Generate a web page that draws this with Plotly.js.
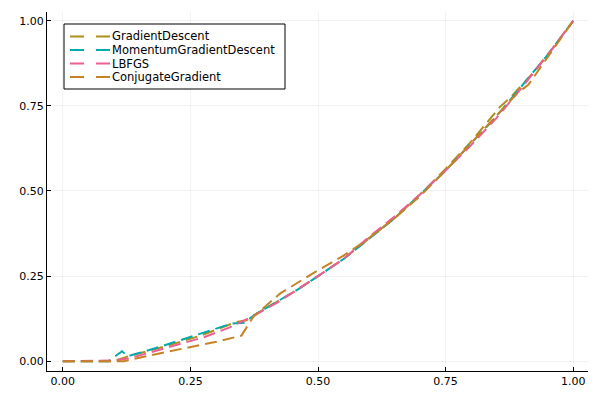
<!DOCTYPE html>
<html>
<head>
<meta charset="utf-8">
<script src="https://cdn.plot.ly/plotly-3.0.1.min.js"></script>
<style>html,body{margin:0;padding:0;background:#fff;}#chart{width:600px;height:400px;}</style>
</head>
<body>
<div id="chart"></div>
<script>
const seriesNames = ["GradientDescent", "MomentumGradientDescent", "LBFGS", "ConjugateGradient"];
const seriesColors = ["#AC8E18", "#00A9AD", "#ED5E93", "#C68225"];

const gdX = [0, 0.1, 0.13, 0.2, 0.27, 0.34, 0.36, 0.38, 0.42, 0.46, 0.5, 0.55, 0.6, 0.65, 0.7, 0.75, 0.8, 0.857, 0.876, 0.92, 0.96, 1.0];
const gdY = [0, 0, 0.015, 0.043, 0.075, 0.115, 0.12, 0.14, 0.175, 0.21, 0.25, 0.3, 0.36, 0.42, 0.49, 0.565, 0.645, 0.748, 0.773, 0.845, 0.92, 1.0];

const mgdX = [0, 0.09, 0.116, 0.127, 0.19, 0.26, 0.33, 0.355, 0.38, 0.42, 0.46, 0.5, 0.55, 0.6, 0.65, 0.7, 0.75, 0.8, 0.85, 0.9, 0.95, 1.0];
const mgdY = [0, 0, 0.029, 0.014, 0.042, 0.077, 0.11, 0.113, 0.14, 0.175, 0.21, 0.25, 0.3, 0.36, 0.42, 0.49, 0.56, 0.64, 0.72, 0.81, 0.9, 1.0];

const lbX = [0, 0.1, 0.13, 0.2, 0.278, 0.327, 0.38, 0.42, 0.46, 0.5, 0.55, 0.6, 0.65, 0.7, 0.75, 0.8, 0.85, 0.9, 0.95, 1.0];
const lbY = [0, 0.002, 0.008, 0.038, 0.071, 0.099, 0.138, 0.172, 0.21, 0.25, 0.3, 0.365, 0.425, 0.49, 0.56, 0.635, 0.715, 0.805, 0.9, 1.0];

const cgX = [0, 0.12, 0.203, 0.269, 0.301, 0.35, 0.373, 0.426, 0.49, 0.55, 0.586, 0.65, 0.7, 0.75, 0.8, 0.85, 0.89, 0.912, 0.96, 1.0];
const cgY = [0, 0, 0.027, 0.047, 0.057, 0.075, 0.13, 0.199, 0.258, 0.31, 0.346, 0.42, 0.485, 0.56, 0.64, 0.72, 0.787, 0.812, 0.915, 1.0];

const xs = [gdX, mgdX, lbX, cgX];
const ys = [gdY, mgdY, lbY, cgY];

const tickVals = [0, 0.25, 0.5, 0.75, 1.0];
const tickText = ["0.00", "0.25", "0.50", "0.75", "1.00"];

const traces = seriesNames.map((n, i) => ({
  type: "scatter", mode: "lines", name: n, x: xs[i], y: ys[i],
  line: {color: seriesColors[i], width: 2, dash: "12px,6px"}
}));

// Compact legend (Plots.jl style) built as paper-referenced shapes + text
const W = 600, H = 400, M = {l: 47, r: 12, t: 12, b: 29};
const pw = W - M.l - M.r, ph = H - M.t - M.b;
const px = v => (v - M.l) / pw;
const py = v => (H - M.b - v) / ph;

const shapes = [{type: "rect", xref: "paper", yref: "paper",
  x0: px(64), x1: px(285), y0: py(24), y1: py(89),
  line: {color: "#000", width: 1}, fillcolor: "#fff", layer: "above"}];
const annotations = [];
seriesNames.forEach((n, i) => {
  const yy = 36.5 + i * 13.5;
  shapes.push({type: "line", xref: "paper", yref: "paper",
    x0: px(70), x1: px(110), y0: py(yy), y1: py(yy),
    line: {color: seriesColors[i], width: 2, dash: "14px,12px"}, layer: "above"});
  annotations.push({xref: "paper", yref: "paper", x: px(111.5), y: py(yy),
    xanchor: "left", yanchor: "middle", showarrow: false, text: n,
    borderpad: 0, borderwidth: 0,
    font: {family: "DejaVu Sans", size: 11.5, color: "#000"}});
});

const axisCommon = {
  tickvals: tickVals, ticktext: tickText,
  showgrid: true, gridcolor: "rgba(0,0,0,0.1)", gridwidth: 0.5,
  zeroline: false, showline: true, linecolor: "#000", linewidth: 1,
  ticks: "inside", ticklen: 4, tickcolor: "#000", mirror: false,
  tickfont: {family: "DejaVu Sans", size: 11, color: "#000"}
};

const layout = {
  width: W, height: H,
  margin: M,
  paper_bgcolor: "#fff", plot_bgcolor: "#fff",
  showlegend: false,
  shapes: shapes, annotations: annotations,
  xaxis: Object.assign({}, axisCommon, {range: [-0.031, 1.029]}),
  yaxis: Object.assign({}, axisCommon, {range: [-0.029, 1.026]})
};

Plotly.newPlot("chart", traces, layout, {displayModeBar: false, staticPlot: true});
</script>
</body>
</html>
